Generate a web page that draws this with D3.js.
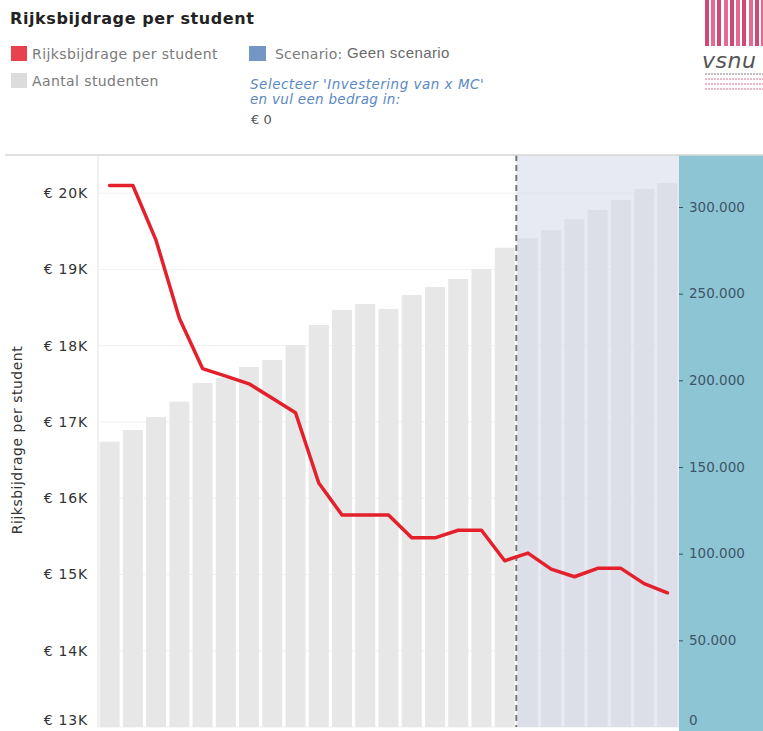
<!DOCTYPE html>
<html>
<head>
<meta charset="utf-8">
<script src="https://cdn.jsdelivr.net/npm/d3@7"></script>
<style>
    body { margin: 0; background: #fff; }
    svg { display: block; font-family: "DejaVu Sans", Verdana, sans-serif; }
</style>
</head>
<body>
<div id="chart"></div>
<script>
// jaren (categorieen), aantal studenten (balken), rijksbijdrage per student (lijn)
const jaren = ["2000","2001","2002","2003","2004","2005","2006","2007","2008","2009","2010","2011","2012",
    "2013","2014","2015","2016","2017","2018","2019","2020","2021","2022","2023","2024"];
const aantalStudenten = [164600, 171300, 178800, 187700, 198500, 201300, 207700, 211700, 220400, 231900,
    240600, 244000, 241200, 249200, 253800, 258500, 264200, 276500, 282000, 286700, 293000, 298300,
    304000, 310400, 313800];
const rijksbijdrage = [20100, 20100, 19380, 18360, 17700, 17600, 17500, 17310, 17120, 16200, 15780, 15780,
    15780, 15480, 15480, 15580, 15580, 15180, 15280, 15070, 14970, 15080, 15080, 14880, 14760];
const eersteScenarioJaar = "2018";
const linksTicks = [13000, 14000, 15000, 16000, 17000, 18000, 19000, 20000];
const rechtsTicks = [0, 50000, 100000, 150000, 200000, 250000, 300000];

const W = 763, H = 731;
const margin = {top: 155, right: 84, bottom: 4, left: 98};
const width = W - margin.left - margin.right, height = H - margin.top - margin.bottom;

const svg = d3.select("#chart").append("svg").attr("width", W).attr("height", H);

// ---- kop en legenda ----
svg.append("text").attr("x", 10).attr("y", 24)
    .text("Rijksbijdrage per student")
    .style("font-weight", "bold").style("font-size", "16px").style("letter-spacing", "0.6px").attr("fill", "#222");

svg.append("rect").attr("x", 11).attr("y", 46).attr("width", 16).attr("height", 15).attr("fill", "#e8424e");
svg.append("text").attr("x", 32).attr("y", 59).text("Rijksbijdrage per student")
    .style("font-size", "14px").style("letter-spacing", "0.4px").attr("fill", "#7a7a7a");
svg.append("rect").attr("x", 11).attr("y", 73).attr("width", 16).attr("height", 15).attr("fill", "#dcdcdc");
svg.append("text").attr("x", 32).attr("y", 86).text("Aantal studenten")
    .style("font-size", "14px").style("letter-spacing", "0.4px").attr("fill", "#7a7a7a");

svg.append("rect").attr("x", 249).attr("y", 46).attr("width", 17).attr("height", 15).attr("fill", "#7396c4");
svg.append("text").attr("x", 275).attr("y", 59).text("Scenario:")
    .style("font-size", "14px").style("letter-spacing", "0.2px").attr("fill", "#7a7a7a");
svg.append("text").attr("x", 347).attr("y", 58).text("Geen scenario")
    .style("font-size", "15px").style("letter-spacing", "0.4px").attr("fill", "#6a6a6a")
    .style("font-family", "Liberation Sans, Arial, sans-serif");
svg.append("text").attr("x", 250).attr("y", 89).text("Selecteer 'Investering van x MC'")
    .style("font-size", "13.5px").style("letter-spacing", "0.5px").style("font-style", "italic").attr("fill", "#5b88c4");
svg.append("text").attr("x", 250).attr("y", 104).text("en vul een bedrag in:")
    .style("font-size", "13.5px").style("letter-spacing", "0.3px").style("font-style", "italic").attr("fill", "#5b88c4");
svg.append("text").attr("x", 251).attr("y", 124).text("€ 0")
    .style("font-size", "13px").attr("fill", "#555");

// logo rechtsboven
const logo = svg.append("g").attr("transform", "translate(705,0)");
const strepen = [0, 6, 12, 19, 25, 31, 37, 44, 50, 56];
logo.selectAll("rect.streep").data(strepen).enter().append("rect")
    .attr("class", "streep")
    .attr("x", function (d) { return d; }).attr("y", 0)
    .attr("width", 4).attr("height", 46)
    .attr("fill", function (d, i) { return i % 2 ? "#e0507e" : "#c8285e"; })
    .attr("opacity", 0.85);
logo.append("text").attr("x", -3).attr("y", 68).text("vsnu")
    .style("font-size", "22px").style("font-style", "italic").style("letter-spacing", "0.5px").attr("fill", "#555");
[74, 79, 84, 89].forEach(function (y, i) {
    logo.append("line").attr("x1", 0).attr("x2", 60).attr("y1", y).attr("y2", y)
        .attr("stroke", i === 0 ? "#aaa" : "#e7a0b6").attr("stroke-width", 1.3).attr("stroke-dasharray", "2,1");
});

// ---- schalen ----
const x = d3.scaleBand().domain(jaren).range([0, width]).paddingInner(0.14).paddingOuter(0.07);
const yL = d3.scaleLinear().domain([13000, 20500]).range([height, 0]);
const yR = d3.scaleLinear().domain([0, 330000]).range([height, 0]);

// rechter paneel (achter de as)
svg.append("rect").attr("x", margin.left + width).attr("y", margin.top)
    .attr("width", margin.right).attr("height", height + margin.bottom)
    .attr("fill", "#8ec5d4");

const g = svg.append("g").attr("transform", "translate(" + margin.left + "," + margin.top + ")");

// rasterlijnen
g.append("g").selectAll("line").data(linksTicks).enter().append("line")
    .attr("x1", 0).attr("x2", width)
    .attr("y1", function (d) { return yL(d); }).attr("y2", function (d) { return yL(d); })
    .attr("stroke", "#f0f0f0");

// balken
g.append("g").selectAll("rect").data(aantalStudenten).enter().append("rect")
    .attr("x", function (d, i) { return x(jaren[i]); })
    .attr("y", function (d) { return yR(d); })
    .attr("width", x.bandwidth())
    .attr("height", function (d) { return height - yR(d); })
    .attr("fill", "#e7e7e7");

// scenario gebied
const xScen = x(eersteScenarioJaar) - x.step() * x.paddingInner() / 2;
g.append("rect").attr("x", xScen).attr("y", 0)
    .attr("width", width - xScen).attr("height", height)
    .attr("fill", "#d3d9ea").attr("opacity", 0.55);

g.append("line").attr("x1", xScen).attr("x2", xScen).attr("y1", 0).attr("y2", height)
    .attr("stroke", "#777").attr("stroke-width", 2).attr("stroke-dasharray", "6,4");

// linker rand en bovenlijn
g.append("line").attr("x1", 0).attr("x2", 0).attr("y1", 0).attr("y2", height)
    .attr("stroke", "#e2e2e2");
svg.append("line").attr("x1", 5).attr("x2", W).attr("y1", margin.top).attr("y2", margin.top)
    .attr("stroke", "#d6d6d6").attr("stroke-width", 1.5);

// lijn rijksbijdrage
const lijn = d3.line()
    .x(function (d, i) { return x(jaren[i]) + x.bandwidth() / 2; })
    .y(function (d) { return yL(d); });
g.append("path").datum(rijksbijdrage)
    .attr("d", lijn)
    .attr("fill", "none").attr("stroke", "#e3202b").attr("stroke-width", 3.5)
    .attr("stroke-linejoin", "round").attr("stroke-linecap", "round");

// ---- linker as ----
const asL = g.append("g")
    .call(d3.axisLeft(yL).tickValues(linksTicks).tickSize(0).tickPadding(10)
        .tickFormat(function (d) { return "€ " + (d / 1000) + "K"; }));
asL.select(".domain").remove();
asL.selectAll("text").style("font-size", "14px").style("letter-spacing", "0.8px")
    .attr("fill", "#333").style("font-family", "DejaVu Sans, sans-serif");
// onderste label iets omhoog, zodat het niet wordt afgesneden
asL.selectAll(".tick").filter(function (d) { return d === 13000; }).select("text").attr("y", -7);

svg.append("text")
    .attr("transform", "translate(22,440) rotate(-90)")
    .attr("text-anchor", "middle")
    .text("Rijksbijdrage per student")
    .style("font-size", "14px").style("letter-spacing", "0.5px").attr("fill", "#333");

// ---- rechter as ----
const asR = g.append("g").attr("transform", "translate(" + width + ",0)")
    .call(d3.axisRight(yR).tickValues(rechtsTicks).tickSize(4).tickPadding(6)
        .tickFormat(function (d) { return d3.format(",")(d).replace(/,/g, "."); }));
asR.select(".domain").remove();
asR.selectAll("line").attr("stroke", "#3d5566");
asR.selectAll("text").style("font-size", "13.5px").attr("fill", "#3d5566")
    .style("font-family", "DejaVu Sans, sans-serif");
const nulTick = asR.selectAll(".tick").filter(function (d) { return d === 0; });
nulTick.select("line").remove();
nulTick.select("text").attr("y", -7);
</script>
</body>
</html>
